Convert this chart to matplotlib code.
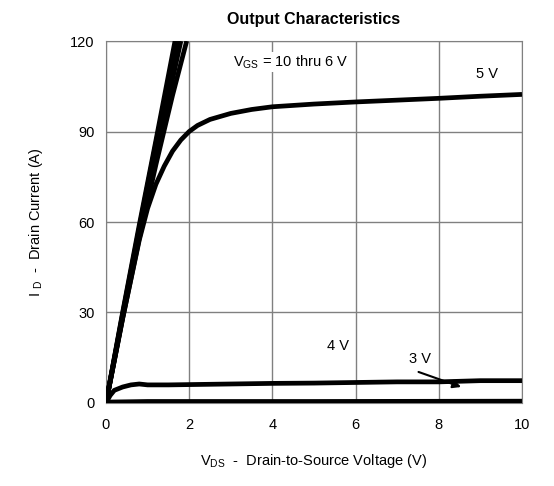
import matplotlib
matplotlib.use('Agg')
import matplotlib.pyplot as plt

plt.rcParams['font.family'] = ['Liberation Sans', 'DejaVu Sans']

# Kennlinien fuer V_GS = 10 ... 6 V (steiler Bereich)
vds_10 = [0, 0.4, 0.8, 1.2, 1.66]
id_10 = [0, 30, 59, 87, 120]
vds_9 = [0, 0.4, 0.8, 1.2, 1.70]
id_9 = [0, 29.5, 58, 86, 120]
vds_8 = [0, 0.4, 0.8, 1.2, 1.74]
id_8 = [0, 29, 57, 84.5, 120]
vds_7 = [0, 0.4, 0.8, 1.2, 1.80]
id_7 = [0, 28.5, 56, 82, 120]
vds_6 = [0, 0.4, 0.8, 1.2, 1.6, 1.94]
id_6 = [0, 28, 54.5, 79, 102, 120]

# V_GS = 5 V
vds_5 = [0, 0.4, 0.8, 1.0, 1.2, 1.4, 1.6, 1.8, 2.0, 2.2, 2.5, 3.0, 3.5, 4.0, 5, 6, 7, 8, 9, 10]
id_5 = [0, 28, 54, 64.5, 72.5, 78.5, 83.5, 87.2, 90, 92, 94, 96, 97.3, 98.2, 99.1, 99.8, 100.4, 101, 101.7, 102.3]

# V_GS = 4 V
vds_4 = [0, 0.1, 0.2, 0.4, 0.6, 0.8, 1.0, 1.5, 2, 3, 4, 5, 6, 7, 8, 8.5, 9, 10]
id_4 = [0, 2.5, 4.2, 5.3, 6.0, 6.3, 6.0, 6.0, 6.1, 6.3, 6.5, 6.6, 6.8, 7.0, 7.0, 7.2, 7.4, 7.4]

# V_GS = 3 V
vds_3 = [0, 1, 5, 10]
id_3 = [0.3, 0.5, 0.5, 0.6]

x_ticks = [0, 2, 4, 6, 8, 10]
y_ticks = [0, 30, 60, 90, 120]

fig = plt.figure(figsize=(5.54, 4.86), dpi=100)
ax = fig.add_axes([0.1913, 0.1708, 0.7509, 0.7448])

lw = 3.4
for v, i in [(vds_10, id_10), (vds_9, id_9), (vds_8, id_8), (vds_7, id_7),
             (vds_6, id_6), (vds_5, id_5), (vds_4, id_4), (vds_3, id_3)]:
    ax.plot(v, i, color='black', lw=lw, solid_capstyle='butt', zorder=3)

ax.set_xlim(0, 10)
ax.set_ylim(0, 120)
ax.set_xticks(x_ticks)
ax.set_yticks(y_ticks)
ax.grid(True, color='#808080', lw=1)
ax.set_axisbelow(True)
for s in ax.spines.values():
    s.set_color('#808080')
ax.tick_params(axis='both', length=0, labelsize=10.5)
ax.tick_params(axis='x', pad=11)
ax.tick_params(axis='y', pad=8)

box = dict(facecolor='white', edgecolor='none', pad=1)
ax.text(4.45, 113, r'V$_{\mathregular{GS}}$ = 10 thru 6 V', fontsize=10.5,
        ha='center', va='center', bbox=box, zorder=4)
ax.text(9.16, 109, '5 V', fontsize=10.5, ha='center', va='center', bbox=box, zorder=4)
ax.text(5.58, 19, '4 V', fontsize=10.5, ha='center', va='center', bbox=box, zorder=4)
ax.text(7.55, 14.5, '3 V', fontsize=10.5, ha='center', va='center', bbox=box, zorder=4)
ax.annotate('', xy=(8.6, 5.0), xytext=(7.45, 10.6),
            arrowprops=dict(arrowstyle='-|>', color='black', lw=1.5,
                            mutation_scale=12), zorder=5)

ax.set_title('Output Characteristics', fontsize=11.5, fontweight='bold', pad=12)
ax.set_xlabel(r'V$_{\mathregular{DS}}$  -  Drain-to-Source Voltage (V)', fontsize=10.5, labelpad=14)
ax.set_ylabel(r'I $_{\mathregular{D}}$  -  Drain Current (A)', fontsize=10.5, labelpad=18)

fig.savefig('out.png', dpi=100)
